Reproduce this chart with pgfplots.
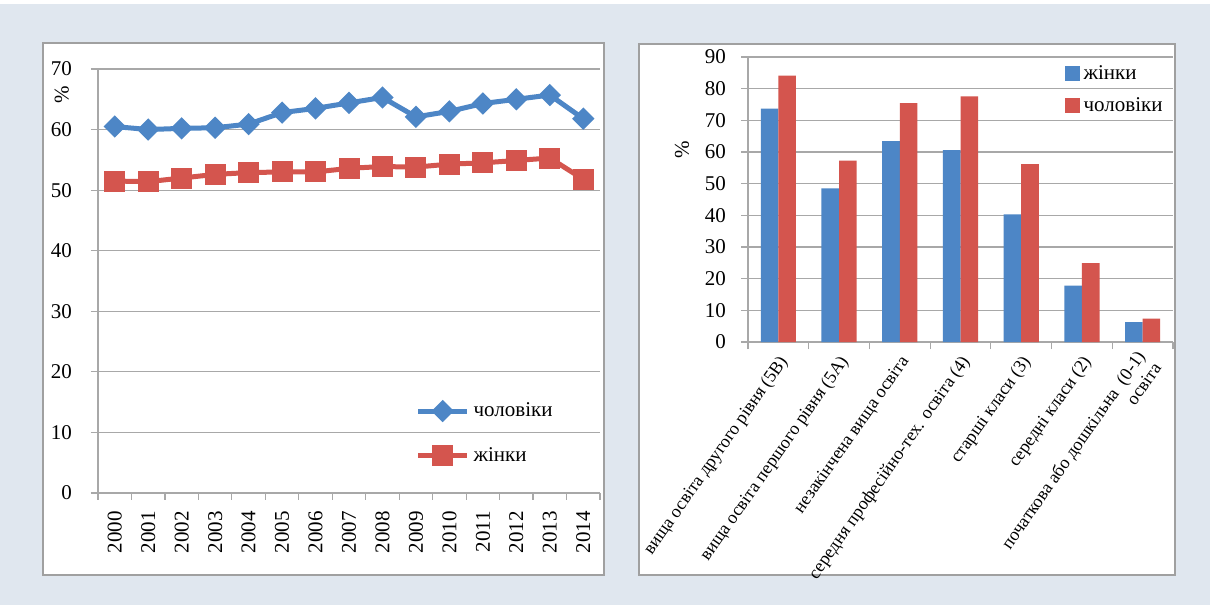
\documentclass[border=0pt]{standalone}
\usepackage{fontspec}
\setmainfont{Liberation Serif}
\usepackage{pgfplots}
\pgfplotsset{compat=1.18}

\definecolor{bgpanel}{RGB}{224,231,239}
\definecolor{boxgray}{RGB}{160,160,160}
\definecolor{gridgray}{RGB}{168,168,168}
\definecolor{xlblue}{RGB}{77,134,198}
\definecolor{xlred}{RGB}{212,85,78}

\pgfplotsset{
  panel/.style={
    scale only axis,
    axis lines=left,
    axis line style={draw=gridgray, line width=0.6pt, -},
    ymajorgrids,
    grid style={draw=gridgray, line width=0.6pt},
    tick style={draw=gridgray, line width=0.6pt},
    tick align=outside,
    major tick length=3.5pt,
    /pgf/number format/assume math mode=true,
    ticklabel style={font=\fontsize{10.5}{12}\selectfont},
    xticklabels={},
    ylabel={\%},
    label style={font=\fontsize{10.5}{12}\selectfont},
  }
}

\begin{document}
\begin{tikzpicture}
\useasboundingbox (0,0) rectangle (605pt,302.5pt);
\fill[bgpanel] (0,0) rectangle (605pt,302.5pt);
\fill[white] (0,300.5pt) rectangle (605pt,302.5pt);
\filldraw[fill=white, draw=boxgray, line width=1.2pt] (21.5pt,15pt) rectangle (302pt,281pt);
\filldraw[fill=white, draw=boxgray, line width=1.2pt] (319.5pt,15pt) rectangle (587.5pt,280.5pt);

% left: lines by year
\begin{axis}[panel,
  at={(49pt,56pt)}, anchor=south west,
  width=251pt, height=212pt,
  xmin=-0.5, xmax=14.5, ymin=0, ymax=70,
  ytick={0,10,...,70},
  yticklabel style={xshift=-6pt},
  xtick={-0.5,0.5,...,14.5},
  extra x ticks={0,1,...,14},
  extra x tick labels={2000,2001,2002,2003,2004,2005,2006,2007,2008,2009,2010,2011,2012,2013,2014},
  extra x tick style={tick style={draw=none}, xticklabel style={yshift=-2pt, rotate=90, anchor=east}},
  ylabel style={at={(rel axis cs:-0.072,0.94)}, anchor=center},
  legend style={draw=none, fill=none, at={(rel axis cs:0.62,0.233)}, anchor=north west,
    row sep=10pt, font=\fontsize{10.5}{12}\selectfont},
  legend cell align=left,
  legend image code/.code={\draw[#1, mark repeat=2, mark phase=2] plot coordinates {(0pt,0pt)(12.25pt,0pt)(24.5pt,0pt)};},
]
\addplot[color=xlblue, line width=2.5pt, mark=square*, mark size=2.7pt, mark options={rotate=45}]
  coordinates {(0,60.5)(1,60.0)(2,60.2)(3,60.3)(4,60.9)(5,62.8)(6,63.5)(7,64.4)(8,65.3)(9,62.1)(10,63.0)(11,64.3)(12,65.0)(13,65.7)(14,61.8)};
\addlegendentry{чоловіки}
\addplot[color=xlred, line width=2.5pt, mark=square*, mark size=4pt]
  coordinates {(0,51.5)(1,51.4)(2,52.0)(3,52.6)(4,52.9)(5,53.0)(6,53.0)(7,53.6)(8,53.9)(9,53.8)(10,54.3)(11,54.5)(12,54.9)(13,55.3)(14,51.8)};
\addlegendentry{жінки}
\end{axis}

% right: bars by education level
\begin{axis}[panel,
  at={(374pt,131.5pt)}, anchor=south west,
  width=212.5pt, height=142.5pt,
  ybar=0pt, bar width=0.29,
  xmin=-0.5, xmax=6.5, ymin=0, ymax=90,
  ytick={0,10,...,90},
  yticklabel style={xshift=-4pt},
  xtick={-0.5,0.5,...,6.5},
  extra x ticks={0,1,...,6},
  extra x tick labels={вища освіта другого рівня (5В),вища освіта першого рівня (5А),незакінчена вища освіта,середня професійно-тех. освіта (4),старші класи (3),середні класи (2),{початкова або дошкільна\ \ (0-1)\\освіта}},
  extra x tick style={tick style={draw=none}, xticklabel style={xshift=5pt, yshift=-2pt, rotate=55, anchor=east, align=right, font=\fontsize{9}{10}\selectfont}},
  ylabel style={at={(rel axis cs:-0.155,0.674)}, anchor=center},
  legend style={draw=none, fill=none, at={(rel axis cs:1,1)}, anchor=north east,
    row sep=3.5pt, font=\fontsize{10.5}{12}\selectfont},
  legend cell align=left,
  legend image code/.code={\fill[#1] (0pt,-3.75pt) rectangle (7.5pt,3.75pt);},
]
\addplot[fill=xlblue, draw=none] coordinates {(0,73.7)(1,48.5)(2,63.4)(3,60.6)(4,40.3)(5,17.8)(6,6.3)};
\addlegendentry{жінки}
\addplot[fill=xlred, draw=none] coordinates {(0,84.1)(1,57.3)(2,75.4)(3,77.6)(4,56.2)(5,24.9)(6,7.4)};
\addlegendentry{чоловіки}
\end{axis}
\end{tikzpicture}
\end{document}
